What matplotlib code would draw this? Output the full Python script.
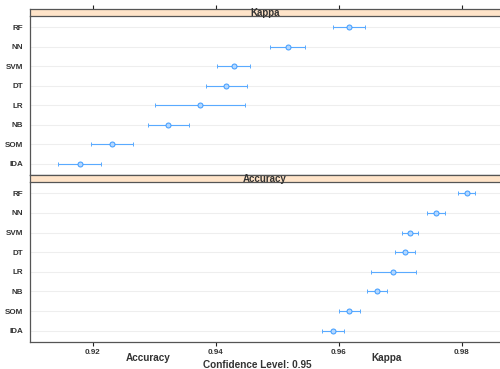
import numpy as np
import matplotlib.pyplot as plt

# model names, bottom to top
models = ['lDA', 'SOM', 'NB', 'LR', 'DT', 'SVM', 'NN', 'RF']

kappa_mid = [0.9179, 0.9231, 0.9323, 0.9375, 0.9417, 0.9429, 0.9517, 0.9616]
kappa_lo = [0.9144, 0.9197, 0.9290, 0.9302, 0.9384, 0.9402, 0.9488, 0.9590]
kappa_hi = [0.9213, 0.9266, 0.9357, 0.9448, 0.9450, 0.9455, 0.9545, 0.9642]

acc_mid = [0.9590, 0.9616, 0.9662, 0.9688, 0.9708, 0.9715, 0.9758, 0.9808]
acc_lo = [0.9572, 0.9600, 0.9645, 0.9653, 0.9692, 0.9702, 0.9744, 0.9794]
acc_hi = [0.9609, 0.9634, 0.9679, 0.9725, 0.9724, 0.9729, 0.9772, 0.9822]

xticks = [0.92, 0.94, 0.96, 0.98]

plt.rcParams['font.family'] = ['Liberation Sans', 'DejaVu Sans']
plt.rcParams['font.weight'] = 'bold'

fig = plt.figure(figsize=(5, 3.69), dpi=100)
H = 369.0

def px_box(top, bottom, left=30, right=500):
    return [left / 500, 1 - bottom / H, (right - left) / 500, (bottom - top) / H]

blue = '#3d9bff'
border = '#555555'
txt = '#333333'

def panel(top, bottom, title, mid, lo, hi, show_bottom, show_top):
    ax = fig.add_axes(px_box(top, bottom))
    y = np.arange(1, len(models) + 1)
    for yy in y:
        ax.axhline(yy, color='#eeeeee', lw=0.8, zorder=0)
    mid = np.array(mid)
    ax.errorbar(mid, y, xerr=[mid - np.array(lo), np.array(hi) - mid], fmt='o',
                ms=3.6, mfc='#b3d7ff', mec=blue, mew=0.7, ecolor='#5aaaff',
                elinewidth=0.8, capsize=1.5, capthick=0.8, zorder=3)
    ax.set_xlim(0.9098, 0.9862)
    ax.set_ylim(0.43, 8.57)
    ax.set_yticks(y)
    ax.set_yticklabels(models, fontsize=5.8, fontweight='bold', color=txt)
    ax.tick_params(axis='y', length=0, pad=5)
    ax.set_xticks(xticks)
    if show_bottom:
        ax.set_xticklabels(['0.92', '0.94', '0.96', '0.98'], fontsize=5.8,
                           fontweight='bold', color=txt)
        ax.tick_params(axis='x', length=3, width=0.8, color='#222222', pad=2,
                       bottom=True, top=False)
    else:
        ax.tick_params(axis='x', length=0, labelbottom=False)
    for s in ['left', 'bottom']:
        ax.spines[s].set_color(border)
        ax.spines[s].set_linewidth(0.9)
    ax.spines['right'].set_visible(False)
    ax.spines['top'].set_visible(False)

    # strip above the panel
    st = fig.add_axes(px_box(top - 7, top))
    st.set_facecolor('#ffe4c9')
    st.set_xlim(0.9098, 0.9862)
    st.set_ylim(0, 1)
    st.set_yticks([])
    st.set_xticks(xticks)
    st.tick_params(axis='x', labelbottom=False, bottom=False, top=show_top,
                   length=3, width=0.8, color='#222222', direction='out')
    for s in ['top', 'bottom', 'left']:
        st.spines[s].set_color(border)
        st.spines[s].set_linewidth(0.9)
    st.spines['right'].set_visible(False)
    st.text(0.5, 0.45, title, transform=st.transAxes, ha='center', va='center',
            fontsize=7, fontweight='bold', color=txt)
    return ax

panel(16, 175, 'Kappa', kappa_mid, kappa_lo, kappa_hi, False, True)
panel(182, 342, 'Accuracy', acc_mid, acc_lo, acc_hi, True, False)

fig.text(148 / 500, 1 - 358 / H, 'Accuracy', ha='center', va='center',
         fontsize=7.2, fontweight='bold', color=txt)
fig.text(387 / 500, 1 - 358 / H, 'Kappa', ha='center', va='center',
         fontsize=7.2, fontweight='bold', color=txt)
fig.text(257 / 500, 1 - 365 / H, 'Confidence Level: 0.95', ha='center',
         va='center', fontsize=7.2, fontweight='bold', color=txt)

fig.savefig('out.png', dpi=100)
